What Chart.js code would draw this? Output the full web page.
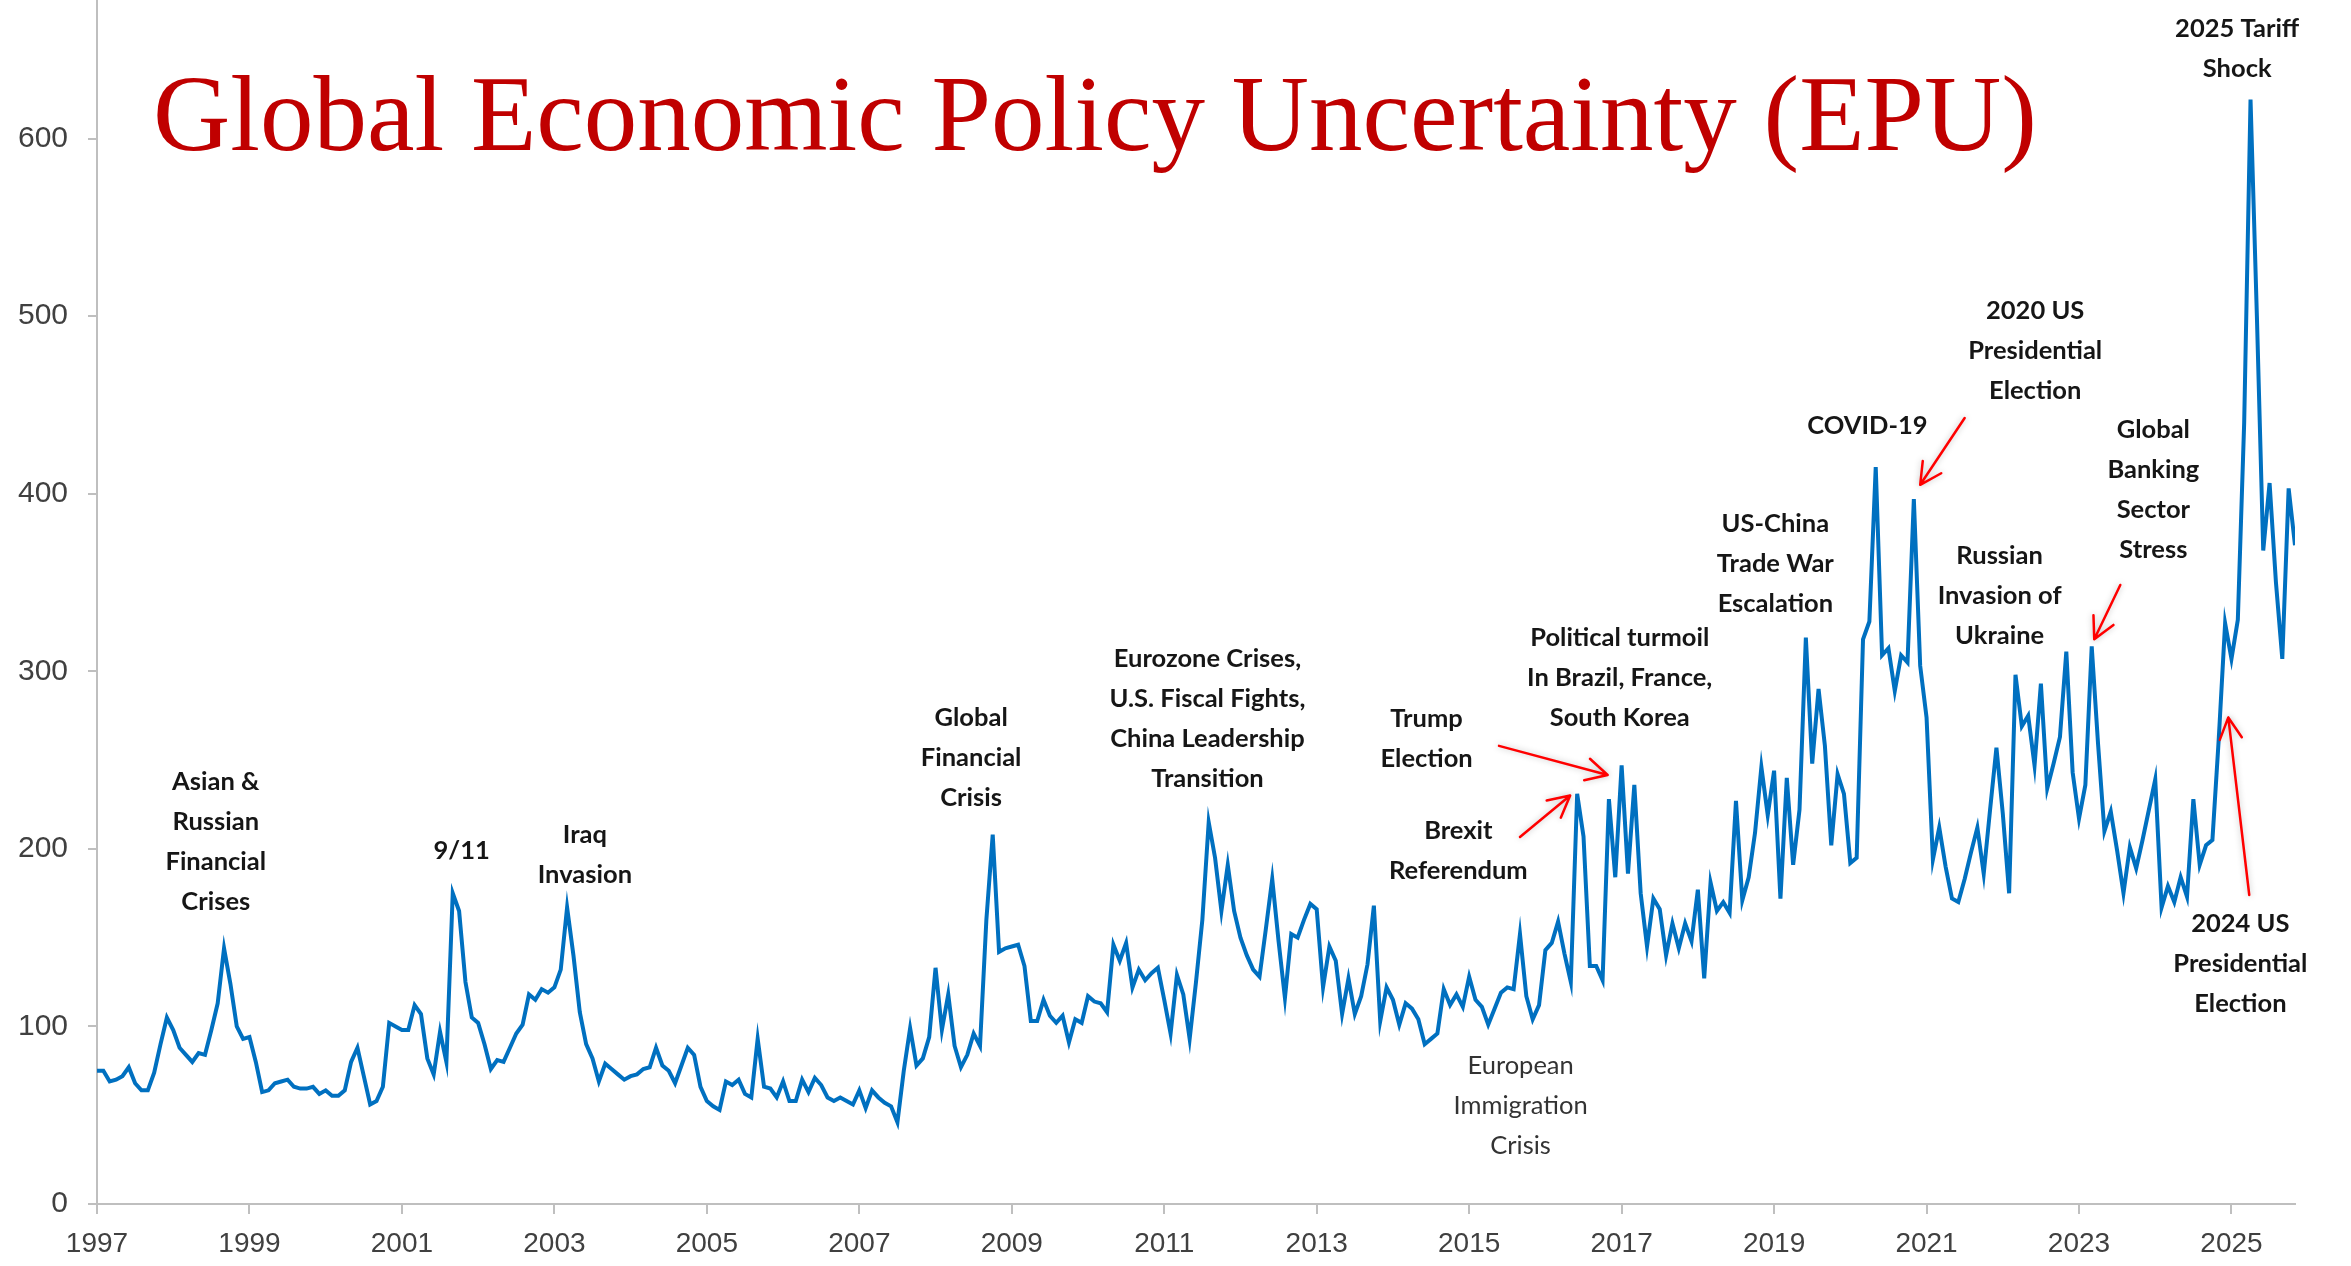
<!DOCTYPE html>
<html>
<head>
<meta charset="utf-8">
<script src="https://cdn.jsdelivr.net/npm/chart.js@4.4.1/dist/chart.umd.min.js"></script>
<style>
  html, body { margin: 0; padding: 0; background: #fff; }
  #wrap { width: 2351px; height: 1266px; position: relative; }
</style>
</head>
<body>
<div id="wrap"><canvas id="epuChart"></canvas></div>
<script>
// --- DATA ---
// Global EPU index, monthly, Jan 1997 .. Nov 2025
const epuValues = [
  75, 75, 69, 70, 72, 77, 68, 64, 64, 74, 90, 105,        // 1997
  98, 88, 84, 80, 85, 84, 98, 113, 144, 124, 100, 93,     // 1998
  94, 80, 63, 64, 68, 69, 70, 66, 65, 65, 66, 62,         // 1999
  64, 61, 61, 64, 80, 88, 72, 56, 58, 66, 102, 100,       // 2000
  98, 98, 112, 107, 82, 73, 97, 80, 175, 165, 125, 105,   // 2001
  102, 90, 76, 81, 80, 88, 96, 101, 118, 115, 121, 119,   // 2002
  122, 132, 167, 140, 108, 90, 82, 69, 79, 76, 73, 70,    // 2003
  72, 73, 76, 77, 88, 78, 75, 68, 78, 88, 84, 66,         // 2004
  58, 55, 53, 69, 67, 70, 62, 60, 93, 66, 65, 60,         // 2005
  69, 58, 58, 70, 63, 71, 67, 60, 58, 60, 58, 56,         // 2006
  64, 54, 64, 60, 57, 55, 46, 75, 99, 78, 82, 94,         // 2007
  133, 98, 118, 89, 77, 84, 96, 89, 160, 208, 142, 144,   // 2008
  145, 146, 134, 103, 103, 115, 106, 102, 106, 91, 104, 102, // 2009
  117, 114, 113, 108, 146, 137, 147, 122, 132, 126, 130, 133, // 2010
  115, 96, 129, 118, 93, 125, 160, 215, 195, 165, 191, 165,   // 2011
  150, 140, 132, 128, 155, 183, 148, 116, 152, 150, 160, 169, // 2012
  166, 122, 145, 137, 107, 127, 107, 117, 135, 168, 103, 122, // 2013
  115, 101, 113, 110, 104, 90, 93, 96, 121, 112, 118, 111,    // 2014
  128, 115, 111, 101, 110, 119, 122, 121, 152, 117, 104, 112, // 2015
  143, 147, 159, 141, 125, 231, 207, 134, 134, 126, 228, 184, // 2016
  247, 186, 236, 175, 145, 172, 166, 140, 158, 144, 158, 148, // 2017
  177, 127, 181, 165, 170, 164, 227, 171, 184, 209, 246, 219, // 2018
  244, 172, 240, 191, 222, 319, 248, 290, 258, 202, 242, 231, // 2019
  192, 195, 318, 328, 415, 309, 313, 289, 309, 305, 397, 303, // 2020
  274, 194, 212, 190, 172, 170, 183, 198, 212, 186, 222, 257, // 2021
  220, 175, 298, 269, 275, 247, 293, 234, 248, 263, 311, 243, // 2022
  217, 236, 314, 259, 210, 221, 199, 175, 201, 189, 205, 222, // 2023
  239, 167, 179, 170, 184, 173, 228, 191, 202, 205, 262, 327, // 2024
  307, 329, 440, 622, 500, 368, 406, 350, 307, 403, 371       // 2025
];

// month categories (1997-01 ...)
const monthLabels = [];
for (let yr = 1997; yr <= 2025; yr++) {
  for (let mo = 1; mo <= 12; mo++) {
    if (monthLabels.length < epuValues.length) monthLabels.push(yr + '-' + String(mo).padStart(2, '0'));
  }
}

// x tick labels, one every 24 months
const tickYears = ['1997', '1999', '2001', '2003', '2005', '2007', '2009', '2011',
                   '2013', '2015', '2017', '2019', '2021', '2023', '2025'];
const yTickValues = [0, 100, 200, 300, 400, 500, 600];

const titleText = 'Global Economic Policy Uncertainty (EPU)';

// --- ANNOTATIONS (placed in data units: month index, index value) ---
const notes = [
  { lines: ['Asian &', 'Russian', 'Financial', 'Crises'], m: 18.7, v: 238 },
  { lines: ['9/11'], m: 57.4, v: 199 },
  { lines: ['Iraq', 'Invasion'], m: 76.8, v: 208 },
  { lines: ['Global', 'Financial', 'Crisis'], m: 137.6, v: 274 },
  { lines: ['Eurozone Crises,', 'U.S. Fiscal Fights,', 'China Leadership', 'Transition'], m: 174.8, v: 307 },
  { lines: ['Trump', 'Election'], m: 209.3, v: 273 },
  { lines: ['Brexit', 'Referendum'], m: 214.3, v: 210 },
  { lines: ['European', 'Immigration', 'Crisis'], m: 224.1, v: 78, bold: false },
  { lines: ['Political turmoil', 'In Brazil, France,', 'South Korea'], m: 239.7, v: 319 },
  { lines: ['US-China', 'Trade War', 'Escalation'], m: 264.2, v: 383 },
  { lines: ['COVID-19'], m: 278.7, v: 438 },
  { lines: ['2020 US', 'Presidential', 'Election'], m: 305.1, v: 503 },
  { lines: ['Russian', 'Invasion of', 'Ukraine'], m: 299.5, v: 365 },
  { lines: ['Global', 'Banking', 'Sector', 'Stress'], m: 323.7, v: 436 },
  { lines: ['2025 Tariff', 'Shock'], m: 336.9, v: 662 },
  { lines: ['2024 US', 'Presidential', 'Election'], m: 337.4, v: 158 }
];

// red arrows: tail -> head
const arrows = [
  { from: [220.7, 258], to: [237.8, 241.6] },
  { from: [224.0, 206.7], to: [231.9, 230] },
  { from: [294.0, 442.6], to: [287.0, 405] },
  { from: [318.5, 348.6], to: [314.4, 318] },
  { from: [338.8, 174], to: [335.5, 274] }
];

const notesPlugin = {
  id: 'notes',
  afterDraw(chart) {
    const { ctx } = chart;
    const xs = chart.scales.x, ys = chart.scales.y;
    const px = m => xs.getPixelForValue(m);
    const py = v => ys.getPixelForValue(v);
    ctx.save();

    // title
    ctx.font = '107px "Liberation Serif", "Times New Roman", serif';
    ctx.fillStyle = '#C00000';
    ctx.textAlign = 'center';
    ctx.textBaseline = 'alphabetic';
    ctx.fillText(titleText, px(157.1), py(593.5));

    // text notes
    ctx.textBaseline = 'middle';
    notes.forEach(n => {
      ctx.font = (n.bold === false ? '' : 'bold ') + '25.5px Lato, "Open Sans", sans-serif';
      ctx.fillStyle = n.bold === false ? '#333333' : '#161616';
      const x0 = px(n.m), y0 = py(n.v);
      n.lines.forEach((t, i) => ctx.fillText(t, x0, y0 + i * 40));
    });

    // arrows
    ctx.strokeStyle = '#FF0000';
    ctx.lineWidth = 2.5;
    ctx.lineCap = 'round';
    ctx.lineJoin = 'round';
    ctx.shadowColor = 'rgba(0,0,0,0.25)';
    ctx.shadowBlur = 6;
    arrows.forEach(a => {
      const x1 = px(a.from[0]), y1 = py(a.from[1]);
      const x2 = px(a.to[0]), y2 = py(a.to[1]);
      const ang = Math.atan2(y2 - y1, x2 - x1);
      const hl = 24, spread = 0.48;
      ctx.beginPath();
      ctx.moveTo(x1, y1);
      ctx.lineTo(x2, y2);
      ctx.moveTo(x2 - hl * Math.cos(ang - spread), y2 - hl * Math.sin(ang - spread));
      ctx.lineTo(x2, y2);
      ctx.lineTo(x2 - hl * Math.cos(ang + spread), y2 - hl * Math.sin(ang + spread));
      ctx.stroke();
    });
    ctx.restore();
  }
};

document.addEventListener('DOMContentLoaded', () => {
  const canvas = document.getElementById('epuChart');
  const ctx = canvas.getContext('2d');
  const xTickFont = { family: '"Liberation Sans", Arial, sans-serif', size: 28 };
  const yTickFont = { family: '"Liberation Sans", Arial, sans-serif', size: 30 };

  new Chart(ctx, {
    type: 'line',
    data: {
      datasets: [{
        label: 'Global EPU',
        data: epuValues.map((v, i) => ({ x: i, y: v, month: monthLabels[i] })),
        borderColor: '#0070C0',
        borderWidth: 4,
        pointRadius: 0,
        tension: 0,
        fill: false
      }]
    },
    options: {
      responsive: true,
      maintainAspectRatio: false,
      animation: false,
      layout: { padding: { left: 0, right: 56, top: 0, bottom: 0 } },
      plugins: { legend: { display: false }, tooltip: { enabled: false } },
      scales: {
        x: {
          type: 'linear',
          min: 0,
          max: epuValues.length - 1,
          afterFit: s => { s.height = 62; s.paddingLeft = 0; s.paddingRight = 0; },
          grid: { drawOnChartArea: false, drawTicks: true, tickLength: 10, color: '#bfbfbf', lineWidth: 2 },
          border: { color: '#bfbfbf', width: 2 },
          ticks: {
            stepSize: 24,
            includeBounds: false,
            autoSkip: false,
            maxRotation: 0,
            padding: 13,
            color: '#404040',
            font: xTickFont,
            callback: v => tickYears[v / 24]
          }
        },
        y: {
          min: 0,
          max: 678,
          afterFit: s => { s.width = 97; s.paddingTop = 0; s.paddingBottom = 0; },
          afterBuildTicks: s => { s.ticks = yTickValues.map(v => ({ value: v })); },
          grid: { drawOnChartArea: false, drawTicks: true, tickLength: 9, color: '#bfbfbf', lineWidth: 2 },
          border: { color: '#bfbfbf', width: 2 },
          ticks: { padding: 20, color: '#404040', font: yTickFont }
        }
      }
    },
    plugins: [notesPlugin]
  });
});
</script>
</body>
</html>
